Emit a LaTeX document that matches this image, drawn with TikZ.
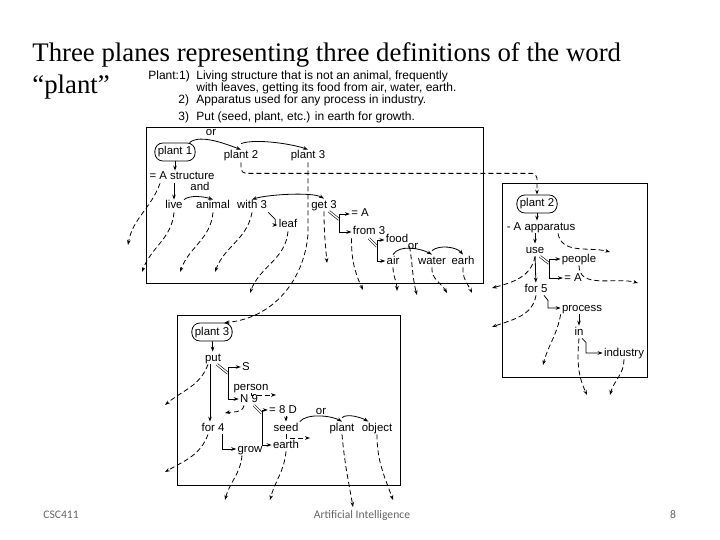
\documentclass[tikz,border=0pt]{standalone}
\usepackage{fontspec}
\setmainfont{Liberation Serif}
\newfontfamily\diagfont{Liberation Sans}
\newfontfamily\footfont{Carlito}
\usetikzlibrary{arrows.meta}
\definecolor{footgray}{RGB}{100,100,100}
\def\lineW{0.8pt}
\def\titleSize{\fontsize{26.8}{30}\selectfont}

\begin{document}
\begin{tikzpicture}[
    x=1pt, y=-1pt,
    line width=\lineW,
    >={Stealth[length=5pt,width=3.6pt]},
    every node/.style={font=\diagfont\fontsize{11.4}{13}\selectfont, inner sep=1pt},
    lbl/.style={text height=8pt, text depth=2pt},
    oval/.style={draw, rounded corners=8pt, inner xsep=3pt, minimum height=18pt},
    link/.style={->},
    dangle/.style={->, dash pattern=on 5pt off 3pt},
    eqlink/.style={double, double distance=1.4pt, line width=0.6pt},
    plane/.style={draw},
    deftext/.style={anchor=base west, inner sep=0pt, font=\diagfont\fontsize{12}{14}\selectfont},
    foot/.style={font=\footfont\fontsize{11.6}{13}\selectfont, text=footgray}
]
\useasboundingbox (0,0) rectangle (720,540);

% title and definitions
\node[deftext, font=\rmfamily\titleSize] (title) at (32,62) {Three planes representing three definitions of the word};
\node[deftext, font=\rmfamily\titleSize] (title2) at (32,94) {“plant”};
\node[deftext] (defhead) at (148,80) {Plant:1)};
\node[deftext] (def1a) at (196,80) {Living structure that is not an animal, frequently};
\node[deftext] (def1b) at (196,92) {with leaves, getting its food from air, water, earth.};
\node[deftext] (num2) at (178,104) {2)};
\node[deftext] (def2) at (196,104) {Apparatus used for any process in industry.};
\node[deftext] (num3) at (178,121) {3)};
\node[deftext] (def3) at (196,121) {Put (seed, plant, etc.) in earth for growth.};

% the three planes
\draw[plane] (146,127) rectangle (483,283);
\draw[plane] (502,183) rectangle (647,377);
\draw[plane] (177,315) rectangle (400,485);

\begin{scope}[every node/.append style={lbl}]
% plane 1
\node (or1) at (211,133) {or};
\node[oval] (p11) at (175,152) {plant 1};
\node (p12) at (241,156) {plant 2};
\node (p13) at (308,156) {plant 3};
\node (strA) at (182,177) {= A structure};
\node (and) at (200,188) {and};
\node (live) at (174,206) {live};
\node (animal) at (213,206) {animal};
\node (with3) at (252,206) {with 3};
\node (leaf) at (288,225) {leaf};
\node (get3) at (324,205) {get 3};
\node (eqA1) at (360,214) {= A};
\node (from3) at (369,232) {from 3};
\node (food) at (397,240) {food};
\node (or2) at (413,246) {or};
\node (air) at (393,261) {air};
\node (water) at (432,261) {water};
\node (earh) at (463,261) {earh};

% plane 2
\node[oval] (p22) at (537,204) {plant 2};
\node (appar) at (541,227) {- A apparatus};
\node (use) at (535,250) {use};
\node (people) at (579,259) {people};
\node (eqA2) at (573,278) {= A};
\node (for5) at (536,289) {for 5};
\node (process) at (582,308) {process};
\node (in) at (579,332) {in};
\node (industry) at (624,353) {industry};

% plane 3
\node[oval] (p33) at (212,332) {plant 3};
\node (put) at (213,358) {put};
\node (S) at (246,367) {S};
\node (person) at (251,387) {person};
\node (N9) at (249,399) {N 9};
\node (eq8D) at (283,410) {= 8 D};
\node (or3) at (321,411) {or};
\node (for4) at (213,428) {for 4};
\node (seed) at (286,428) {seed};
\node (plant) at (342,428) {plant};
\node (object) at (377,428) {object};
\node (grow) at (250,449) {grow};
\node (earth) at (286,445) {earth};
\end{scope}

% free ends of the dashed links
\foreach \n/\x/\y in {strA/128/245, live/142/272, animal/180/272, with3/215/272,
    leaf/250/293, get3/327/263, from3/363/290, air/397/291, food/417/295,
    water/447/293, earh/472/293, appar/610/252, use/492/288, people/638/283,
    for5/492/327, process/543/365, in/587/395, industry/610/395,
    put/165/405, for4/165/472, person/276/395, N9/225/413, seed/310/438,
    grow/225/500, earth/270/500, plant/353/507, object/393/500}
  \coordinate (\n-x) at (\x,\y);

% plane 1 links
\draw[link] (p11.south) -- (p11.south |- strA.north);
\draw[link] (live |- strA.south) -- (live.north);
\draw[link] ([xshift=-6pt]p11.north east) to[out=40,in=160,looseness=0.7] (p12.north);
\draw[link] ([yshift=6pt]p12.north) to[out=20,in=160,looseness=0.6] (p13.north);
\draw[link] (live.north east) to[out=40,in=160,looseness=0.7] (animal.north);
\draw[<->] (with3.north) to[out=20,in=150,looseness=0.5] (get3.north);
\draw[link] (with3.south east) -- ++(7,7) |- (leaf.west);
\draw[eqlink] (get3.south) ++(5,0) -- ++(10,8) coordinate (g3j);
\draw[link] (g3j) |- (eqA1);
\draw[link] (g3j) |- (from3);
\draw[eqlink] (from3.south) -- ++(8,8) coordinate (f3j);
\draw[link] (f3j) |- (food);
\draw[link] (f3j) |- (air);
\draw[link] (air.north) to[out=60,in=150,looseness=0.8] (water.north);
\draw[link] ([yshift=4pt]water.north) to[out=40,in=130,looseness=0.8] (earh.north);
\draw[dangle, rounded corners=5pt] (p12.south) -- ++(0,11) -| (p22.north);
\draw[dangle] (p13.south) -- ++(0,72) to[out=-95,in=5] ([xshift=-8pt]p33.north east);

% plane 2 links
\draw[link] (p22.south) -- (p22.south |- appar.north);
\draw[link] (use.north |- appar.south) -- (use.north);
\draw[eqlink] ([xshift=5pt]use.south) -- ++(9,7) coordinate (usej);
\draw[link] (usej) |- (people);
\draw[link] (usej) |- (eqA2);
\draw[link] (use) -- (for5);
\draw[link] ([xshift=8pt]for5.south) -- ++(4,5) |- (process);
\draw[link] (in.north |- process.south) -- (in.north);
\draw[link] ([xshift=3pt]in.south) -- ++(4,4) |- (industry);

% plane 3 links
\draw[link] (p33) -- (put);
\draw[link] ([xshift=-3pt]put.south) -- ([xshift=-3pt]for4.north);
\draw[eqlink] ([xshift=4pt]put.south) -- ++(11,9) coordinate (putj);
\draw[link] (putj) |- (S);
\draw[link] (putj) |- (N9);
\draw[eqlink] ([xshift=5pt]N9.south) -- ++(8,8) coordinate (n9j);
\draw[link] (n9j) |- (eq8D);
\draw[link] (n9j) |- (earth);
\draw[link] (eq8D.south -| seed.north) -- (seed.north);
\draw[link] (seed.north east) to[out=50,in=150,looseness=0.7] (plant.north);
\draw[link] ([yshift=4pt]plant.north) to[out=40,in=150,looseness=0.7] ([xshift=8pt]object.north west);
\draw[link] ([xshift=9pt]for4.south) |- (grow);

% dashed links that leave their node
\foreach \s/\o/\i in {live/-95/70, animal/-95/70, with3/-100/70, leaf/-95/70,
    get3/-90/95, air/-90/90, water/-95/120, earh/-95/115, use/-100/15,
    for5/-100/20, in/-95/115, industry/-90/75, earth/-95/75, plant/-85/100,
    object/-90/110, people/-90/165}
  \draw[dangle] (\s.south) to[out=\o,in=\i] (\s-x);
\draw[dangle] ([xshift=-22pt]strA.south) to[out=-110,in=80] (strA-x);
\draw[dangle] (from3.south west) to[out=-90,in=115] (from3-x);
\draw[dangle] (food.south east) to[out=-80,in=105] (food-x);
\draw[dangle] ([xshift=17pt]appar.south) to[out=-80,in=165] (appar-x);
\draw[dangle] (process.south west) to[out=-100,in=75] (process-x);
\draw[dangle] ([xshift=-5pt]put.south) to[out=-110,in=40] (put-x);
\draw[dangle] ([xshift=-5pt]for4.south) to[out=-110,in=30] (for4-x);
\draw[dangle] (person.south) |- (person-x);
\draw[dangle] ([xshift=-5pt]N9.south) to[out=-100,in=10] (N9-x);
\draw[dangle] (seed.south) |- (seed-x);
\draw[dangle] ([xshift=-8pt]grow.south) to[out=-95,in=75] (grow-x);

% footer
\node[foot, anchor=west] (course) at (42,515) {CSC411};
\node[foot] (subject) at (362,515) {Artificial Intelligence};
\node[foot] (page) at (673,515) {8};
\end{tikzpicture}
\end{document}
